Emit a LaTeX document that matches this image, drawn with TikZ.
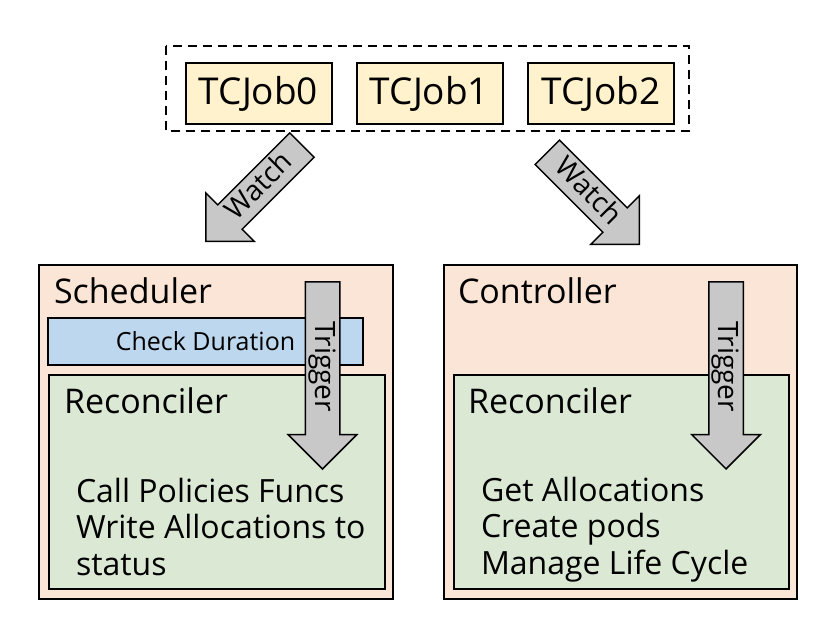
\documentclass[tikz,border=0pt]{standalone}
\usepackage{fontspec}
\setmainfont{Open Sans}
\usetikzlibrary{shapes.arrows, positioning}
\definecolor{jobfill}{HTML}{FFF2CC}
\definecolor{hostfill}{HTML}{FBE5D6}
\definecolor{checkfill}{HTML}{BDD7EE}
\definecolor{recfill}{HTML}{DAE8D4}
\definecolor{arrowfill}{HTML}{C8C8C8}

\begin{document}
\begin{tikzpicture}[x=1pt, y=-1pt, line width=2pt,
    job/.style={draw, fill=jobfill, minimum width=146pt, minimum height=61pt,
        inner sep=0pt, font=\fontsize{37}{44}\selectfont},
    host/.style={draw, fill=hostfill, anchor=north west, inner sep=0pt},
    checkbox/.style={draw, fill=checkfill, anchor=north west, inner sep=0pt,
        font=\fontsize{25}{30}\selectfont},
    recbox/.style={draw, fill=recfill, anchor=north west, inner sep=0pt},
    title/.style={anchor=base west, inner sep=0pt, font=\fontsize{34}{40}\selectfont},
    items/.style={anchor=base west, inner sep=0pt, align=left,
        font=\fontsize{32}{36.5}\selectfont},
    blockarrow/.style={single arrow, draw, fill=arrowfill, line width=1.5pt,
        inner xsep=4pt, inner ysep=2pt, text height=22pt, text depth=7pt,
        single arrow head extend=17pt, single arrow tip angle=90,
        minimum width=67pt, anchor=tip, font=\fontsize{28}{32}\selectfont}]
    \useasboundingbox (0,0) rectangle (827,624);

    % watched jobs
    \draw[dash pattern=on 9pt off 6pt] (166,46) rectangle (689,131);
    \node[job] (job0) at (258.5,93.5) {TCJob0};
    \node[job] (job1) at (429.5,93.5) {TCJob1};
    \node[job] (job2) at (601,93.5) {TCJob2};

    % scheduler side
    \node[host, minimum width=354pt, minimum height=334pt] (sched) at (38,264) {};
    \node[title] (schedname) at (53,303) {Scheduler};
    \node[checkbox, minimum width=315pt, minimum height=47pt] (check) at (47,317) {Check Duration};
    \node[recbox, minimum width=336pt, minimum height=214pt] (recL) at (48,374) {};
    \node[title] (recLname) at (63,413) {Reconciler};
    \node[items] (recLitems) at (75,575) {Call Policies Funcs\\Write Allocations to\\status};

    % controller side
    \node[host, minimum width=353pt, minimum height=334pt] (ctrl) at (443,264) {};
    \node[title] (ctrlname) at (457,303) {Controller};
    \node[recbox, minimum width=335pt, minimum height=214pt] (recR) at (453,374) {};
    \node[title] (recRname) at (467,413) {Reconciler};
    \node[items] (recRitems) at (480,574) {Get Allocations\\Create pods\\Manage Life Cycle};

    % block arrows
    \node[blockarrow, rotate=45, shape border rotate=180, minimum height=136pt] (watchL) at (205,242) {Watch};
    \node[blockarrow, rotate=-45, minimum height=130pt] (watchR) at (640,245) {Watch};
    \node[blockarrow, rotate=-90, minimum height=187pt] (trigL) at (322.5,470) {Trigger};
    \node[blockarrow, rotate=-90, minimum height=187pt] (trigR) at (726,470) {Trigger};
\end{tikzpicture}
\end{document}
